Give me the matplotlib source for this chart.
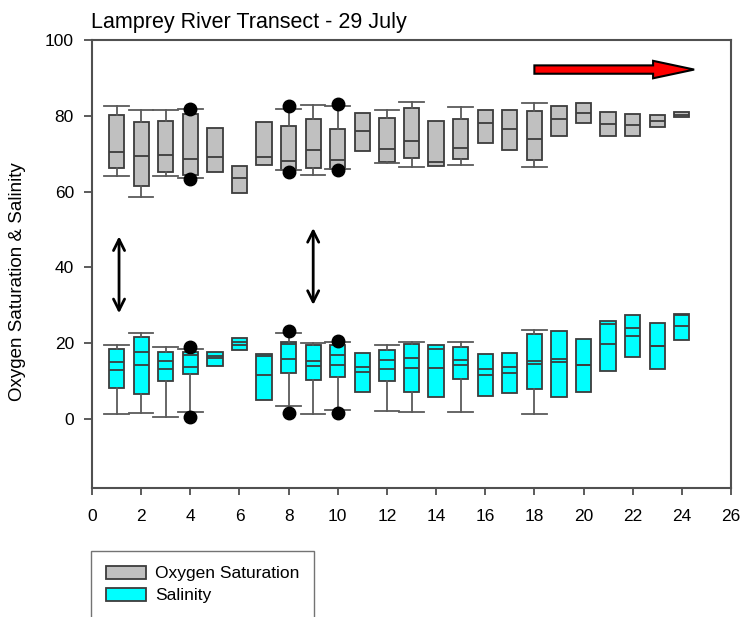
import numpy as np
import matplotlib
matplotlib.use("Agg")
import matplotlib.pyplot as plt
from matplotlib.patches import FancyArrow, Patch

plt.rcParams['font.family'] = ['Liberation Sans', 'DejaVu Sans']

nan = np.nan
stations = list(range(1, 25))

# Oxygen saturation boxes (nan = no whisker)
oxy_cap_hi = [82.7, 81.5, 81.5, 81.8, nan, nan, nan, 81.8, 82.8, 82.5, nan, 81.4,
              83.7, nan, 82.2, nan, nan, 83.3, nan, nan, nan, nan, nan, nan]
oxy_q3 = [80.3, 78.3, 78.6, 80.5, 76.9, 66.7, 78.4, 77.4, 79.2, 76.4, 80.7, 79.5,
          82.0, 78.6, 79.1, 81.6, 81.4, 81.2, 82.7, 83.4, 81.1, 80.5, 80.1, 80.9]
oxy_med = [70.5, 69.4, 69.6, 68.6, 69.1, 63.6, 69.0, 68.2, 70.9, 68.4, 76.1, 71.3,
           73.4, 67.8, 71.4, 78.1, 76.6, 73.9, 79.2, 80.8, 77.9, 77.6, 78.6, 80.3]
oxy_q1 = [66.2, 61.6, 65.3, 64.3, 65.1, 59.6, 67.0, 65.8, 66.2, 66.0, 70.8, 67.8,
          68.9, 66.8, 68.7, 72.8, 71.1, 68.3, 74.8, 78.0, 74.8, 74.8, 77.1, 79.7]
oxy_cap_lo = [64.2, 58.6, 64.0, 63.6, nan, nan, nan, 65.6, 64.5, 66.0, nan, 67.5,
              66.5, nan, 67.1, nan, nan, 66.4, nan, nan, nan, nan, nan, nan]
oxy_out = {4: [81.9, 63.3], 8: [82.5, 65.2], 10: [83.1, 65.6]}

# Salinity boxes (two lines inside each box)
sal_cap_hi = [19.4, 22.6, 18.9, 18.5, nan, nan, nan, 22.6, 20.0, 20.2, nan, 19.6,
              20.3, nan, 20.4, nan, nan, 23.4, nan, nan, nan, nan, nan, nan]
sal_q3 = [18.4, 21.6, 17.7, 17.8, 17.8, 21.5, 17.2, 20.2, 19.4, 19.4, 17.4, 18.2,
          19.7, 19.6, 19.1, 17.1, 17.4, 22.5, 23.3, 21.1, 25.8, 27.5, 25.4, 27.7]
sal_line_a = [15.0, 17.7, 15.4, 16.8, 16.7, 20.4, 16.7, 19.7, 15.4, 16.9, 13.6, 15.5,
              16.1, 18.4, 15.6, 13.2, 13.7, 15.4, 15.9, 14.3, 25.1, 24.0, 19.3, 27.5]
sal_line_b = [12.9, 14.3, 13.1, 13.6, 16.0, 19.5, 11.6, 15.8, 14.0, 14.3, 12.4, 13.3,
              13.4, 13.4, 14.3, 11.6, 12.2, 14.5, 15.1, 14.3, 19.8, 21.8, 19.3, 24.6]
sal_q1 = [8.1, 6.6, 10.0, 12.0, 14.1, 18.2, 5.0, 12.1, 10.3, 11.1, 7.1, 10.0,
          7.1, 5.9, 10.6, 6.2, 6.8, 8.0, 5.9, 7.2, 12.8, 16.4, 13.3, 20.9]
sal_cap_lo = [1.2, 1.5, 0.6, 1.8, nan, nan, nan, 3.4, 1.2, 2.5, nan, 2.1,
              1.8, nan, 1.8, nan, nan, 1.4, nan, nan, nan, nan, nan, nan]
sal_out = {4: [18.9, 0.6], 8: [23.2, 1.5], 10: [20.6, 1.5]}


def make_stats(lo, q1, med, q3, hi, outs, mean=None):
    stats = []
    for i, s in enumerate(stations):
        d = dict(whislo=lo[i], q1=q1[i], med=med[i], q3=q3[i], whishi=hi[i],
                 fliers=outs.get(s, []))
        if mean is not None:
            d['mean'] = mean[i]
        stats.append(d)
    return stats


fig = plt.figure(figsize=(7.42, 6.17), dpi=100)
ax = fig.add_axes([92 / 742, 1 - 488 / 617, 639 / 742, 448 / 617])

edge = '#3c3c3c'
wcol = '#5a5a5a'
common = dict(positions=stations, widths=0.62, capwidths=1.0, patch_artist=True,
              manage_ticks=False,
              whiskerprops=dict(color=wcol, lw=1.3),
              capprops=dict(color=wcol, lw=1.3),
              medianprops=dict(color=edge, lw=1.3),
              flierprops=dict(marker='o', markerfacecolor='black',
                              markeredgecolor='black', markersize=9, linestyle='none'))

ax.bxp(make_stats(oxy_cap_lo, oxy_q1, oxy_med, oxy_q3, oxy_cap_hi, oxy_out),
       boxprops=dict(facecolor='#c0c0c0', edgecolor=edge, lw=1.3), **common)
ax.bxp(make_stats(sal_cap_lo, sal_q1, sal_line_a, sal_q3, sal_cap_hi, sal_out, sal_line_b),
       boxprops=dict(facecolor='#00ffff', edgecolor=edge, lw=1.3),
       showmeans=True, meanline=True,
       meanprops=dict(color=edge, lw=1.3, linestyle='-'), **common)

# vertical double arrows
for xa, y0, y1 in [(1.1, 27.9, 48.2), (9.0, 30.1, 50.4)]:
    ax.annotate('', xy=(xa, y1), xytext=(xa, y0),
                arrowprops=dict(arrowstyle='<->', lw=2.0, color='black',
                                mutation_scale=20, shrinkA=0, shrinkB=0))

# red direction arrow
ax.add_patch(FancyArrow(18.0, 92.2, 6.5, 0, width=2.2, head_width=4.6, head_length=1.67,
                        length_includes_head=True, fc='red', ec='black', lw=1.5,
                        clip_on=False, zorder=5))

ax.set_xlim(0, 26)
ax.set_ylim(-18.2, 100)
ax.set_xticks(range(0, 27, 2))
ax.set_yticks(range(0, 101, 20))
ax.tick_params(axis='x', direction='out', length=5, width=1.2, color='#404040',
               labelsize=12.5, pad=10)
ax.tick_params(axis='y', direction='out', length=6, width=1.2, color='#404040',
               labelsize=12.5, pad=7)
for sp in ax.spines.values():
    sp.set_color('#505050')
    sp.set_linewidth(1.5)

fig.text(18 / 742, 1 - 282 / 617, 'Oxygen Saturation & Salinity', rotation=90,
         ha='center', va='center', fontsize=13.5)
fig.text(91 / 742, 1 - 28 / 617, 'Lamprey River Transect - 29 July', fontsize=15.5,
         ha='left', va='baseline')

handles = [Patch(facecolor='#c0c0c0', edgecolor=edge, lw=1.3, label='Oxygen Saturation'),
           Patch(facecolor='#00ffff', edgecolor=edge, lw=1.3, label='Salinity')]
fig.legend(handles=handles, loc='upper left', bbox_to_anchor=(91 / 742, 1 - 551 / 617),
           frameon=True, fancybox=False, edgecolor='#505050', fontsize=12.5,
           handlelength=2.3, handleheight=0.8, handletextpad=0.55, borderpad=0.85,
           labelspacing=0.35, borderaxespad=0)

fig.savefig('out.png', dpi=100)
